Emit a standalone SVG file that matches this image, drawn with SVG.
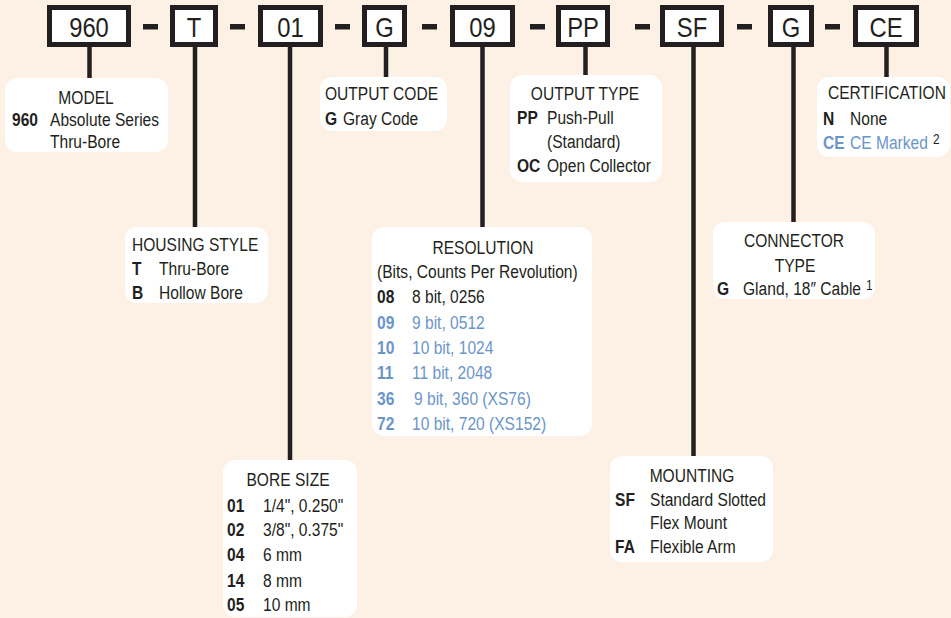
<svg xmlns="http://www.w3.org/2000/svg" width="951" height="618" viewBox="0 0 951 618">
<style>
text{font-family:"Liberation Sans",Arial,sans-serif;fill:#231f20;font-size:19px}
.code{font-size:28px;text-anchor:middle}
.c{text-anchor:middle}
.b{font-weight:bold}
.blue{fill:#6b95c9}
.sup{font-size:14px}
.panel{fill:#ffffff}
.seg{fill:#ffffff;stroke:#231f20;stroke-width:5}
.dash{fill:#231f20}
.wire{stroke:#231f20;stroke-width:4.5;fill:none}
</style>
<rect width="951" height="618" fill="#fdf0e4"/>
<g id="connectors">
<line class="wire" x1="89.5" y1="44" x2="89.5" y2="79"/>
<line class="wire" x1="195" y1="44" x2="195" y2="228"/>
<line class="wire" x1="290" y1="44" x2="290" y2="461"/>
<line class="wire" x1="386" y1="44" x2="386" y2="78"/>
<line class="wire" x1="482.5" y1="44" x2="482.5" y2="228"/>
<line class="wire" x1="585.5" y1="44" x2="585.5" y2="76"/>
<line class="wire" x1="693.5" y1="44" x2="693.5" y2="457"/>
<line class="wire" x1="793.5" y1="44" x2="793.5" y2="223"/>
<line class="wire" x1="886.5" y1="44" x2="886.5" y2="78"/>
</g>
<g id="partnumber">
<rect class="seg" x="49.5" y="7.5" width="79" height="37"/><text class="code" transform="translate(89 37) scale(.85 1)">960</text>
<rect class="dash" x="143" y="24" width="15" height="5.5"/>
<rect class="seg" x="172.5" y="7.5" width="43" height="37"/><text class="code" transform="translate(194 37) scale(.85 1)">T</text>
<rect class="dash" x="230" y="24" width="15" height="5.5"/>
<rect class="seg" x="260.5" y="7.5" width="60" height="37"/><text class="code" transform="translate(290.5 37) scale(.85 1)">01</text>
<rect class="dash" x="335" y="24" width="15" height="5.5"/>
<rect class="seg" x="364.5" y="7.5" width="40" height="37"/><text class="code" transform="translate(384.5 37) scale(.85 1)">G</text>
<rect class="dash" x="422" y="24" width="15" height="5.5"/>
<rect class="seg" x="452.5" y="7.5" width="60" height="37"/><text class="code" transform="translate(482.5 37) scale(.85 1)">09</text>
<rect class="dash" x="530" y="24" width="15" height="5.5"/>
<rect class="seg" x="558.5" y="7.5" width="49" height="37"/><text class="code" transform="translate(583 37) scale(.85 1)">PP</text>
<rect class="dash" x="635" y="24" width="15" height="5.5"/>
<rect class="seg" x="662.5" y="7.5" width="59" height="37"/><text class="code" transform="translate(692 37) scale(.85 1)">SF</text>
<rect class="dash" x="737" y="24" width="15" height="5.5"/>
<rect class="seg" x="770.5" y="7.5" width="41" height="37"/><text class="code" transform="translate(791 37) scale(.85 1)">G</text>
<rect class="dash" x="825" y="24" width="15" height="5.5"/>
<rect class="seg" x="855.5" y="7.5" width="61" height="37"/><text class="code" transform="translate(886 37) scale(.85 1)">CE</text>
</g>
<g id="model">
<rect class="panel" x="5" y="78" width="163" height="74" rx="12"/>
<text class="c" transform="translate(86 104) scale(.82 1)">MODEL</text>
<text class="b" transform="translate(12 126) scale(.82 1)">960</text><text transform="translate(50 126) scale(.82 1)">Absolute Series</text>
<text transform="translate(50 148) scale(.82 1)">Thru-Bore</text>
</g>
<g id="output-code">
<rect class="panel" x="320" y="77" width="127" height="54" rx="12"/>
<text transform="translate(325 100) scale(.82 1)">OUTPUT CODE</text>
<text class="b" transform="translate(325 125) scale(.82 1)">G</text><text transform="translate(343 125) scale(.82 1)">Gray Code</text>
</g>
<g id="output-type">
<rect class="panel" x="510" y="75" width="152" height="107" rx="12"/>
<text class="c" transform="translate(585 100) scale(.82 1)">OUTPUT TYPE</text>
<text class="b" transform="translate(517 124) scale(.82 1)">PP</text><text transform="translate(547 124) scale(.82 1)">Push-Pull</text>
<text transform="translate(547 148) scale(.82 1)">(Standard)</text>
<text class="b" transform="translate(517 172) scale(.82 1)">OC</text><text transform="translate(547 172) scale(.82 1)">Open Collector</text>
</g>
<g id="certification">
<rect class="panel" x="817" y="77" width="133" height="80" rx="12"/>
<text transform="translate(828 99) scale(.82 1)">CERTIFICATION</text>
<text class="b" transform="translate(823 125) scale(.82 1)">N</text><text transform="translate(850 125) scale(.82 1)">None</text>
<text class="b blue" transform="translate(823 149) scale(.82 1)">CE</text><text class="blue" transform="translate(850 149) scale(.82 1)">CE Marked</text><text class="sup" transform="translate(933 144) scale(.85 1)">2</text>
</g>
<g id="housing-style">
<rect class="panel" x="125" y="227" width="143" height="76" rx="12"/>
<text transform="translate(132 251) scale(.82 1)">HOUSING STYLE</text>
<text class="b" transform="translate(132 275) scale(.82 1)">T</text><text transform="translate(159 275) scale(.82 1)">Thru-Bore</text>
<text class="b" transform="translate(132 299) scale(.82 1)">B</text><text transform="translate(159 299) scale(.82 1)">Hollow Bore</text>
</g>
<g id="resolution">
<rect class="panel" x="372" y="227" width="220" height="209" rx="12"/>
<text class="c" transform="translate(483 254) scale(.82 1)">RESOLUTION</text>
<text transform="translate(377 278) scale(.82 1)">(Bits, Counts Per Revolution)</text>
<text class="b" transform="translate(377 303) scale(.82 1)">08</text><text transform="translate(412 303) scale(.82 1)">8 bit, 0256</text>
<text class="b blue" transform="translate(377 329) scale(.82 1)">09</text><text class="blue" transform="translate(412 329) scale(.82 1)">9 bit, 0512</text>
<text class="b blue" transform="translate(377 354) scale(.82 1)">10</text><text class="blue" transform="translate(412 354) scale(.82 1)">10 bit, 1024</text>
<text class="b blue" transform="translate(377 379) scale(.82 1)">11</text><text class="blue" transform="translate(412 379) scale(.82 1)">11 bit, 2048</text>
<text class="b blue" transform="translate(377 405) scale(.82 1)">36</text><text class="blue" transform="translate(414 405) scale(.82 1)">9 bit, 360 (XS76)</text>
<text class="b blue" transform="translate(377 430) scale(.82 1)">72</text><text class="blue" transform="translate(412 430) scale(.82 1)">10 bit, 720 (XS152)</text>
</g>
<g id="connector-type">
<rect class="panel" x="713" y="222" width="162" height="77" rx="12"/>
<text class="c" transform="translate(794 247) scale(.82 1)">CONNECTOR</text>
<text class="c" transform="translate(795 272) scale(.82 1)">TYPE</text>
<text class="b" transform="translate(717 295) scale(.82 1)">G</text><text transform="translate(743 295) scale(.82 1)">Gland, 18″ Cable</text><text class="sup" transform="translate(866 290) scale(.85 1)">1</text>
</g>
<g id="bore-size">
<rect class="panel" x="223" y="460" width="134" height="157" rx="12"/>
<text class="c" transform="translate(288 486) scale(.82 1)">BORE SIZE</text>
<text class="b" transform="translate(227 512) scale(.82 1)">01</text><text transform="translate(263 512) scale(.82 1)">1/4", 0.250"</text>
<text class="b" transform="translate(227 536) scale(.82 1)">02</text><text transform="translate(263 536) scale(.82 1)">3/8", 0.375"</text>
<text class="b" transform="translate(227 561) scale(.82 1)">04</text><text transform="translate(263 561) scale(.82 1)">6 mm</text>
<text class="b" transform="translate(227 587) scale(.82 1)">14</text><text transform="translate(263 587) scale(.82 1)">8 mm</text>
<text class="b" transform="translate(227 611) scale(.82 1)">05</text><text transform="translate(263 611) scale(.82 1)">10 mm</text>
</g>
<g id="mounting">
<rect class="panel" x="610" y="456" width="163" height="106" rx="12"/>
<text class="c" transform="translate(692 482) scale(.82 1)">MOUNTING</text>
<text class="b" transform="translate(615 506) scale(.82 1)">SF</text><text transform="translate(650 506) scale(.82 1)">Standard Slotted</text>
<text transform="translate(650 529) scale(.82 1)">Flex Mount</text>
<text class="b" transform="translate(615 553) scale(.82 1)">FA</text><text transform="translate(650 553) scale(.82 1)">Flexible Arm</text>
</g>
</svg>
